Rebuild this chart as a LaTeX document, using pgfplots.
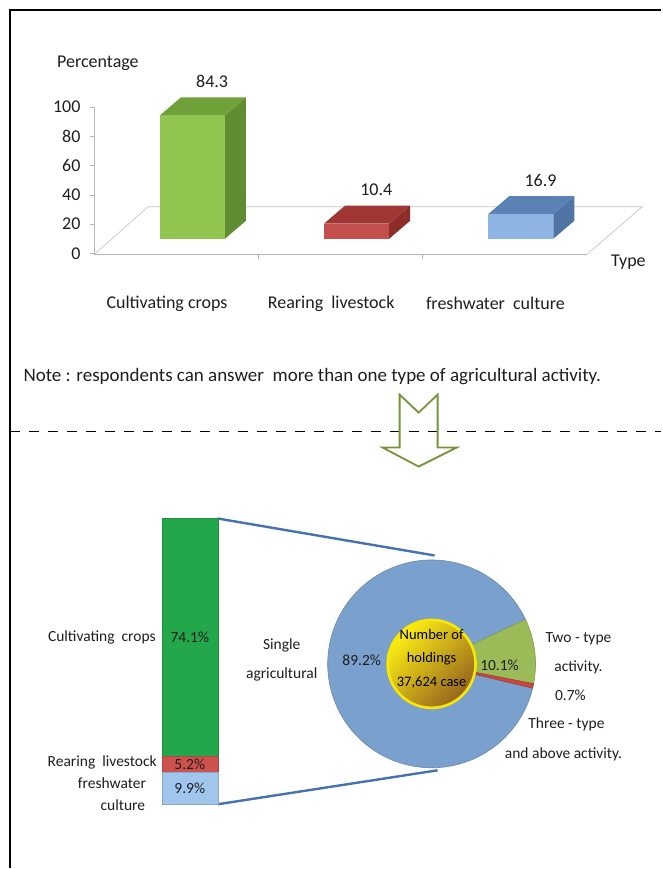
\documentclass[border=0pt]{standalone}
\usepackage{fontspec}
\setmainfont{Carlito}
\usepackage{pgfplots}
\usepackage{pgfplotstable}
\pgfplotsset{compat=1.18}
\pgfkeys{/pgf/number format/assume math mode=true}

\definecolor{txt}{RGB}{30,30,30}
\definecolor{grnF}{RGB}{146,196,80}
\definecolor{grnS}{RGB}{96,140,50}
\definecolor{grnT}{RGB}{112,160,58}
\definecolor{redF}{RGB}{196,80,77}
\definecolor{redS}{RGB}{140,45,42}
\definecolor{redT}{RGB}{160,55,52}
\definecolor{bluF}{RGB}{142,180,227}
\definecolor{bluS}{RGB}{79,116,165}
\definecolor{bluT}{RGB}{90,130,180}
\definecolor{segG}{RGB}{34,168,74}
\definecolor{segR}{RGB}{205,82,78}
\definecolor{segB}{RGB}{160,198,236}
\definecolor{pieB}{RGB}{122,160,205}
\definecolor{pieG}{RGB}{155,187,89}
\definecolor{pieR}{RGB}{200,70,65}
\definecolor{link}{RGB}{70,115,175}
\definecolor{arrowgrn}{RGB}{119,147,60}

\newcommand\fTop{\fontsize{18}{20}\selectfont}
\newcommand\fBot{\fontsize{15.5}{18}\selectfont}

% share of holdings by activity type (more than one answer allowed)
\pgfplotstableread{
x v
0 84.3
1 10.4
2 16.9
}\typedata

% single-activity holdings split by activity
\pgfplotstableread{
v
9.9
5.2
74.1
}\singledata

% holdings by number of activities
\pgfplotstableread{
v
89.2
10.1
0.7
}\piedata

\pgfplotstablegetelem{0}{v}\of\typedata \let\vA\pgfplotsretval
\pgfplotstablegetelem{1}{v}\of\typedata \let\vB\pgfplotsretval
\pgfplotstablegetelem{2}{v}\of\typedata \let\vC\pgfplotsretval
\pgfplotstablegetelem{0}{v}\of\singledata \let\sA\pgfplotsretval
\pgfplotstablegetelem{1}{v}\of\singledata \let\sB\pgfplotsretval
\pgfplotstablegetelem{2}{v}\of\singledata \let\sC\pgfplotsretval
\pgfplotstablegetelem{0}{v}\of\piedata \let\pOne\pgfplotsretval
\pgfplotstablegetelem{1}{v}\of\piedata \let\pTwo\pgfplotsretval
\pgfplotstablegetelem{2}{v}\of\piedata \let\pThree\pgfplotsretval

% 3d box geometry (axis units)
\def\hw{0.198}\def\fx{0.100}\def\fy{9.9}\def\ddx{0.128}\def\ddy{12.3}
\newcommand\drawcube[5]{%
  \pgfmathsetmacro\xl{#1-\hw+\fx}%
  \pgfmathsetmacro\xr{#1+\hw+\fx}%
  \pgfmathsetmacro\xrr{\xr+\ddx}%
  \pgfmathsetmacro\xlr{\xl+\ddx}%
  \pgfmathsetmacro\yb{\fy}%
  \pgfmathsetmacro\yt{\fy+#2}%
  \pgfmathsetmacro\ybb{\yb+\ddy}%
  \pgfmathsetmacro\ytt{\yt+\ddy}%
  \edef\cubetmp{%
    \noexpand\addplot[draw=none,fill=#4] coordinates {(\xr,\yb) (\xrr,\ybb) (\xrr,\ytt) (\xr,\yt)} -- cycle;
    \noexpand\addplot[draw=none,fill=#5] coordinates {(\xl,\yt) (\xr,\yt) (\xrr,\ytt) (\xlr,\ytt)} -- cycle;
    \noexpand\addplot[draw=none,fill=#3] coordinates {(\xl,\yb) (\xr,\yb) (\xr,\yt) (\xl,\yt)} -- cycle;}%
  \cubetmp}

% pie angles
\pgfmathsetmacro\aS{-13.5}
\pgfmathsetmacro\aR{\aS+3.6*\pThree}
\pgfmathsetmacro\aG{\aR+3.6*\pTwo}
\pgfmathsetmacro\aE{\aS+360}
\pgfmathsetmacro\cSx{cos(\aS)}\pgfmathsetmacro\cSy{sin(\aS)}
\pgfmathsetmacro\cRx{cos(\aR)}\pgfmathsetmacro\cRy{sin(\aR)}
\pgfmathsetmacro\cGx{cos(\aG)}\pgfmathsetmacro\cGy{sin(\aG)}

\begin{document}
\begin{tikzpicture}[x=1pt,y=1pt]
\path (0,0) rectangle (663,869);
\draw[line width=1.6pt] (10,0) -- (10,859) -- (662,859);

\begin{axis}[
  at={(94pt,614pt)}, anchor=south west,
  scale only axis, width=493pt, height=148pt,
  xmin=-0.5, xmax=2.5, ymin=-1, ymax=100,
  axis y line*=left, axis x line*=bottom,
  axis line style={draw=gray!55, line width=0.8pt, -},
  ytick={0,20,...,100},
  ytick style={draw=gray!60},
  yticklabel style={font=\fTop, text=txt, xshift=-6pt},
  xtick={0,1,2},
  xticklabels={Cultivating crops, Rearing~~livestock, freshwater~~culture},
  xtick style={draw=none},
  xticklabel style={font=\fTop, text=txt, anchor=center, yshift=-45pt, xshift=-9pt},
  extra x ticks={0.5,1.5},
  extra x tick labels={},
  extra x tick style={xtick style={draw=gray!60}},
  tick align=outside,
  major tick length=4pt,
  clip=false,
  axis on top,
  ylabel={Percentage}, xlabel={Type},
  every axis y label/.style={at={(axis description cs:0,1)}, anchor=center, xshift=4pt, yshift=44pt, font=\fTop, text=txt},
  every axis x label/.style={at={(axis description cs:1,0)}, anchor=center, xshift=42pt, yshift=-7pt, font=\fTop, text=txt},
]
\addplot[draw=gray!45, fill=white, line width=0.7pt] coordinates {(-0.5,-1) (2.5,-1) (2.84,31.8) (-0.17,31.8)} -- cycle;
\drawcube{0}{\vA}{grnF}{grnS}{grnT}
\drawcube{1}{\vB}{redF}{redS}{redT}
\drawcube{2}{\vC}{bluF}{bluS}{bluT}
\addplot[draw=none, nodes near coords, point meta=explicit,
  every node near coord/.append style={anchor=center, font=\fTop, text=txt}]
  table[x expr=\thisrow{x}+0.22, y expr=\thisrow{v}+33.1, meta=v] {\typedata};
\end{axis}

\node[anchor=west, font=\fontsize{19}{22}\selectfont, text=txt] at (20,492)
  {Note : respondents can answer~~more than one type of agricultural activity.};

\draw[line width=1.5pt, dash pattern=on 10pt off 9pt] (10,437) -- (662,437);
\draw[arrowgrn, line width=1.8pt, line join=miter]
  (400,474) -- (419,456) -- (438,474) -- (438,421) -- (457,421) -- (419,402)
  -- (383,421) -- (400,421) -- cycle;

\draw[link, line width=2.4pt] (218,350) -- (435,313);
\draw[link, line width=2.4pt] (218,64) -- (438,98);

% stacked bar: labels sit in the middle of each segment
\begin{axis}[
  at={(162pt,64pt)}, anchor=south west,
  scale only axis, width=56pt, height=286pt,
  xmin=-0.5, xmax=0.5, ymin=0, ymax=89.2,
  hide axis, clip=false,
  ybar stacked, bar width=56pt,
  nodes near coords={\pgfmathprintnumber{\pgfplotspointmeta}\%},
  point meta=rawy,
  every node near coord/.style={anchor=center, font=\fBot, text=txt},
]
\addplot[fill=segB, draw=segB!85!black] coordinates {(0,\sA)};
\addplot[fill=segR, draw=segR!85!black] coordinates {(0,\sB)};
\addplot[fill=segG, draw=segG!85!black] coordinates {(0,\sC)};
\end{axis}

\begin{axis}[
  at={(432pt,204.5pt)}, anchor=center,
  scale only axis, width=208pt, height=208pt,
  xmin=-1, xmax=1, ymin=-1, ymax=1,
  hide axis, clip=false,
]
\filldraw[fill=pieB, draw=pieB!85!black, line width=0.6pt] (axis cs:0,0) -- (axis cs:\cGx,\cGy)
  arc[start angle=\aG, end angle=\aE, radius=104pt] -- cycle;
\filldraw[fill=pieG, draw=pieG!85!black, line width=0.6pt] (axis cs:0,0) -- (axis cs:\cRx,\cRy)
  arc[start angle=\aR, end angle=\aG, radius=104pt] -- cycle;
\filldraw[fill=pieR, draw=pieR!85!black, line width=0.6pt] (axis cs:0,0) -- (axis cs:\cSx,\cSy)
  arc[start angle=\aS, end angle=\aR, radius=104pt] -- cycle;
\shade[top color={rgb,255:red,252;green,238;blue,20}, bottom color={rgb,255:red,150;green,100;blue,30}, shading angle=45]
  (axis cs:0,0) circle[radius=44pt];
\draw[color={rgb,255:red,250;green,232;blue,0}, line width=2.6pt] (axis cs:0,0) circle[radius=44pt];
\end{axis}

\begin{scope}[every node/.style={font=\fBot, text=txt, inner sep=0pt}]
\node[anchor=east] at (156,231) {Cultivating~~crops};
\node[anchor=east] at (157,106) {Rearing~~livestock};
\node at (112,85) {freshwater};
\node at (123,63) {culture};
\node at (282,223) {Single};
\node at (282,194) {agricultural};
\node at (362,208) {\pgfmathprintnumber{\pOne}\%};
\node at (500,203) {\pgfmathprintnumber{\pTwo}\%};
\node at (571,173) {\pgfmathprintnumber{\pThree}\%};
\node at (579,230) {Two - type};
\node at (579,201) {activity.};
\node at (567,144) {Three - type};
\node at (564,114) {and above activity.};
\node[font=\fontsize{14.5}{17}\selectfont, text=black] at (432,234) {Number of};
\node[font=\fontsize{14.5}{17}\selectfont, text=black] at (432,210) {holdings};
\node[font=\fontsize{14.5}{17}\selectfont, text=black] at (432,186) {37,624 case};
\end{scope}
\end{tikzpicture}
\end{document}
